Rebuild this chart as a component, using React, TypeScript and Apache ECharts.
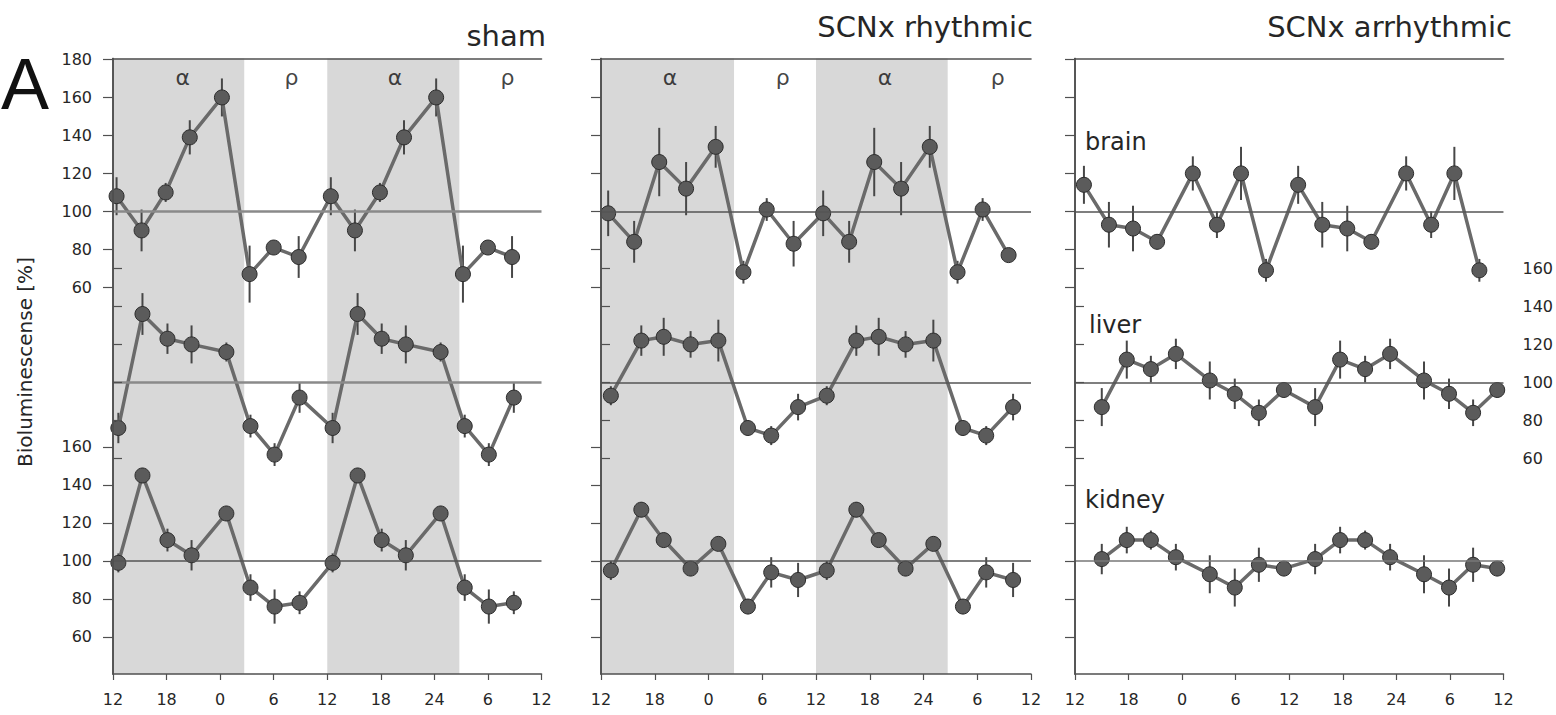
import React, { useEffect, useRef } from "react";
import * as echarts from "echarts";

// ---------- data ----------
const X_LABELS = ["12", "18", "0", "6", "12", "18", "24", "6", "12"];
const BRAIN_TICKS = [60, 80, 100, 120, 140, 160, 180];
const LIVER_TICKS = [60, 80, 100, 120, 140, 160];
const KIDNEY_TICKS = [60, 80, 100, 120, 140, 160];
const PANEL_TITLES = ["sham", "SCNx rhythmic", "SCNx arrhythmic"];
const TISSUES = ["brain", "liver", "kidney"];
const PHASE_NAMES = ["α", "ρ", "α", "ρ"];

// stacking offsets (in % units) for brain / liver / kidney
const OFFSETS = [184, 94, 0];
const Y_MIN = 40.5;
const Y_MAX = 364.5;
const PHASE_Y = 354.5;

// sampling times (hours after 12)
const shamBrainX = [0.4, 3.2, 5.9, 8.6, 12.2, 15.3, 18.0, 20.8, 24.4, 27.1, 29.9, 32.6, 36.2, 39.2, 42.0, 44.7];
const shamOtherX = [0.6, 3.3, 6.1, 8.8, 12.7, 15.4, 18.1, 20.9, 24.6, 27.4, 30.1, 32.8, 36.7, 39.4, 42.1, 44.9];
const rhythBrainX = [0.8, 3.7, 6.5, 9.5, 12.8, 15.9, 18.5, 21.5, 24.8, 27.7, 30.5, 33.5, 36.7, 39.8, 42.6, 45.5];
const rhythOtherX = [1.1, 4.5, 7.0, 10.0, 13.1, 16.4, 19.0, 22.0, 25.2, 28.5, 31.0, 34.0, 37.1, 40.4, 43.0, 46.0];
const arrhBrainX = [1.0, 3.8, 6.5, 9.2, 13.2, 15.9, 18.6, 21.4, 25.0, 27.7, 30.5, 33.2, 37.1, 39.9, 42.5, 45.3];
const arrhOtherX = [3.0, 5.8, 8.5, 11.3, 15.1, 17.9, 20.6, 23.4, 26.9, 29.7, 32.5, 35.3, 39.1, 41.9, 44.6, 47.3];

// sham
const shamBrain = [108, 90, 110, 139, 160, 67, 81, 76, 108, 90, 110, 139, 160, 67, 81, 76];
const shamBrainErr = [10, 11, 5, 9, 10, 15, 3, 11, 10, 11, 5, 9, 10, 15, 3, 11];
const shamLiver = [76, 136, 123, 120, 116, 77, 62, 92, 76, 136, 123, 120, 116, 77, 62, 92];
const shamLiverErr = [8, 11, 8, 10, 5, 6, 6, 8, 8, 11, 8, 10, 5, 6, 6, 8];
const shamKidney = [99, 145, 111, 103, 125, 86, 76, 78, 99, 145, 111, 103, 125, 86, 76, 78];
const shamKidneyErr = [5, 4, 6, 8, 4, 7, 9, 6, 5, 4, 6, 8, 4, 7, 9, 6];

// SCNx rhythmic
const rhythBrain = [99, 84, 126, 112, 134, 68, 101, 83, 99, 84, 126, 112, 134, 68, 101, 77];
const rhythBrainErr = [12, 11, 18, 14, 11, 6, 6, 12, 12, 11, 18, 14, 11, 6, 6, 3];
const rhythLiver = [93, 122, 124, 120, 122, 76, 72, 87, 93, 122, 124, 120, 122, 76, 72, 87];
const rhythLiverErr = [5, 8, 10, 7, 11, 4, 5, 7, 5, 8, 10, 7, 11, 4, 5, 7];
const rhythKidney = [95, 127, 111, 96, 109, 76, 94, 90, 95, 127, 111, 96, 109, 76, 94, 90];
const rhythKidneyErr = [5, 4, 3, 4, 3, 4, 8, 9, 5, 4, 3, 4, 3, 4, 8, 9];

// SCNx arrhythmic
const arrhBrain = [114, 93, 91, 84, 120, 93, 120, 69, 114, 93, 91, 84, 120, 93, 120, 69];
const arrhBrainErr = [10, 12, 12, 4, 9, 7, 14, 6, 10, 12, 12, 4, 9, 7, 14, 6];
const arrhLiver = [87, 112, 107, 115, 101, 94, 84, 96, 87, 112, 107, 115, 101, 94, 84, 96];
const arrhLiverErr = [10, 10, 7, 8, 10, 8, 7, 4, 10, 10, 7, 8, 10, 8, 7, 4];
const arrhKidney = [101, 111, 111, 102, 93, 86, 98, 96, 101, 111, 111, 102, 93, 86, 98, 96];
const arrhKidneyErr = [8, 7, 5, 7, 10, 10, 9, 4, 8, 7, 5, 7, 10, 10, 9, 4];

// shaded (α) phases, hours
const shamShade = [[0, 14.7], [24, 38.8]];
const rhythShade = [[0, 14.85], [24, 38.7]];
const shamPhaseX = [7.8, 20.0, 31.6, 44.2];
const rhythPhaseX = [7.7, 20.3, 31.7, 44.3];

const PANELS = [
  {
    xs: [shamBrainX, shamOtherX, shamOtherX],
    vals: [shamBrain, shamLiver, shamKidney],
    errs: [shamBrainErr, shamLiverErr, shamKidneyErr],
    shade: shamShade,
    phaseX: shamPhaseX,
  },
  {
    xs: [rhythBrainX, rhythOtherX, rhythOtherX],
    vals: [rhythBrain, rhythLiver, rhythKidney],
    errs: [rhythBrainErr, rhythLiverErr, rhythKidneyErr],
    shade: rhythShade,
    phaseX: rhythPhaseX,
  },
  {
    xs: [arrhBrainX, arrhOtherX, arrhOtherX],
    vals: [arrhBrain, arrhLiver, arrhKidney],
    errs: [arrhBrainErr, arrhLiverErr, arrhKidneyErr],
    shade: [] as number[][],
    phaseX: [] as number[],
  },
];

// ---------- styling / layout ----------
const FONT = "DejaVu Sans";
const AXIS_COLOR = "#505050";
const TEXT_COLOR = "#262626";
const GRID_LEFTS = [113, 601, 1075];
const GRID_WIDTHS = [428.5, 430, 431];
const GRID_TOP = 58.5;
const GRID_HEIGHT = 615.5;
const REF_STYLES = [
  [{ color: "#8a8a8a", width: 2.5 }, { color: "#8a8a8a", width: 2.5 }, { color: "#555", width: 1.5 }],
  [{ color: "#555", width: 1.5 }, { color: "#555", width: 1.5 }, { color: "#555", width: 1.5 }],
  [{ color: "#555", width: 1.5 }, { color: "#555", width: 1.5 }, { color: "#777", width: 1.5 }],
];

function buildOption() {
  const leftTicks = [...KIDNEY_TICKS.map((v) => v + OFFSETS[2]), ...BRAIN_TICKS.map((v) => v + OFFSETS[0])];
  const rightTicks = LIVER_TICKS.map((v) => v + OFFSETS[1]);

  const grid: any[] = [];
  const xAxis: any[] = [];
  const yAxis: any[] = [];
  const series: any[] = [];

  PANELS.forEach((panel, p) => {
    grid.push({ left: GRID_LEFTS[p], width: GRID_WIDTHS[p], top: GRID_TOP, height: GRID_HEIGHT });
    const axisLine = { show: true, lineStyle: { color: AXIS_COLOR, width: 1.6 } };
    xAxis.push({
      gridIndex: p,
      type: "value",
      min: 0,
      max: 48,
      interval: 6,
      z: 6,
      axisLine,
      axisTick: { show: true, length: 6, lineStyle: { color: AXIS_COLOR, width: 1.2 } },
      axisLabel: {
        formatter: (v: number) => X_LABELS[Math.round(v / 6)],
        margin: 17,
        fontSize: 16,
        fontFamily: FONT,
        color: TEXT_COLOR,
      },
      splitLine: { show: false },
    });
    xAxis.push({
      gridIndex: p,
      type: "value",
      position: "top",
      min: 0,
      max: 48,
      z: 6,
      axisLine,
      axisTick: { show: false },
      axisLabel: { show: false },
      splitLine: { show: false },
    });
    yAxis.push({
      gridIndex: p,
      type: "value",
      min: Y_MIN,
      max: Y_MAX,
      z: 6,
      axisLine,
      axisTick: { show: true, length: 10, customValues: leftTicks, lineStyle: { color: AXIS_COLOR, width: 1.2 } },
      axisLabel: {
        show: p === 0,
        customValues: leftTicks,
        formatter: (v: number) => String(Math.round(v > 200 ? v - OFFSETS[0] : v - OFFSETS[2])),
        margin: 21,
        fontSize: 16,
        fontFamily: FONT,
        color: TEXT_COLOR,
      },
      splitLine: { show: false },
    });
    yAxis.push({
      gridIndex: p,
      type: "value",
      position: "right",
      min: Y_MIN,
      max: Y_MAX,
      z: 6,
      axisLine,
      axisTick: { show: true, length: 9, customValues: rightTicks, lineStyle: { color: AXIS_COLOR, width: 1.2 } },
      axisLabel: {
        show: p === 2,
        customValues: rightTicks,
        formatter: (v: number) => String(Math.round(v - OFFSETS[1])),
        margin: 19,
        fontSize: 16,
        fontFamily: FONT,
        color: TEXT_COLOR,
      },
      splitLine: { show: false },
    });

    const xi = p * 2;
    const yi = p * 2;

    // background: shading + reference lines
    series.push({
      type: "scatter",
      xAxisIndex: xi,
      yAxisIndex: yi,
      data: [],
      z: 0,
      silent: true,
      markArea: {
        silent: true,
        itemStyle: { color: "#d8d8d8" },
        label: { show: false },
        data: panel.shade.map((s) => [{ xAxis: s[0] }, { xAxis: s[1] }]),
      },
      markLine: {
        silent: true,
        symbol: "none",
        label: { show: false },
        data: OFFSETS.map((off, t) => ({ yAxis: 100 + off, lineStyle: { ...REF_STYLES[p][t], type: "solid" } })),
      },
    });

    TISSUES.forEach((_, t) => {
      const xs = panel.xs[t];
      const vals = panel.vals[t];
      const errs = panel.errs[t];
      const off = OFFSETS[t];
      series.push({
        type: "custom",
        xAxisIndex: xi,
        yAxisIndex: yi,
        z: 2,
        silent: true,
        data: xs.map((x, i) => [x, vals[i] + off - errs[i], vals[i] + off + errs[i]]),
        encode: { x: 0, y: [1, 2] },
        renderItem: (params: any, api: any) => {
          const a = api.coord([api.value(0), api.value(1)]);
          const b = api.coord([api.value(0), api.value(2)]);
          return {
            type: "line",
            shape: { x1: a[0], y1: a[1], x2: b[0], y2: b[1] },
            style: { stroke: "#474747", lineWidth: 2 },
          };
        },
      });
      series.push({
        type: "line",
        xAxisIndex: xi,
        yAxisIndex: yi,
        z: 3,
        silent: true,
        data: xs.map((x, i) => [x, vals[i] + off]),
        symbol: "circle",
        symbolSize: 15,
        itemStyle: { color: "#5b5b5b", borderColor: "#2c2c2c", borderWidth: 1 },
        lineStyle: { color: "#6a6a6a", width: 3.5 },
      });
    });

    if (panel.phaseX.length) {
      series.push({
        type: "scatter",
        xAxisIndex: xi,
        yAxisIndex: yi,
        z: 4,
        silent: true,
        symbolSize: 1,
        itemStyle: { color: "rgba(0,0,0,0)" },
        data: panel.phaseX.map((x, i) => ({ value: [x, PHASE_Y], name: PHASE_NAMES[i] })),
        label: {
          show: true,
          position: "inside",
          formatter: (d: any) => d.name,
          fontSize: 22,
          fontFamily: FONT,
          color: "#111",
        },
      });
    }
  });

  const graphic: any[] = [
    {
      type: "text",
      x: 1,
      y: 84,
      style: { text: "A", font: "72px 'Liberation Sans'", fill: "#111", align: "left", verticalAlign: "middle" },
    },
    {
      type: "text",
      x: 25,
      y: 362,
      rotation: Math.PI / 2,
      style: {
        text: "Bioluminescense [%]",
        font: `20px '${FONT}'`,
        fill: TEXT_COLOR,
        align: "center",
        verticalAlign: "middle",
      },
    },
    {
      type: "text",
      x: 546,
      y: 36,
      style: { text: PANEL_TITLES[0], font: `29px '${FONT}'`, fill: TEXT_COLOR, align: "right", verticalAlign: "middle" },
    },
    {
      type: "text",
      x: 1033,
      y: 27,
      style: { text: PANEL_TITLES[1], font: `29px '${FONT}'`, fill: TEXT_COLOR, align: "right", verticalAlign: "middle" },
    },
    {
      type: "text",
      x: 1512,
      y: 27,
      style: { text: PANEL_TITLES[2], font: `29px '${FONT}'`, fill: TEXT_COLOR, align: "right", verticalAlign: "middle" },
    },
    {
      type: "text",
      x: 1085,
      y: 142,
      style: { text: TISSUES[0], font: `24px '${FONT}'`, fill: TEXT_COLOR, align: "left", verticalAlign: "middle" },
    },
    {
      type: "text",
      x: 1089,
      y: 325,
      style: { text: TISSUES[1], font: `24px '${FONT}'`, fill: TEXT_COLOR, align: "left", verticalAlign: "middle" },
    },
    {
      type: "text",
      x: 1085,
      y: 500,
      style: { text: TISSUES[2], font: `24px '${FONT}'`, fill: TEXT_COLOR, align: "left", verticalAlign: "middle" },
    },
  ];

  return {
    animation: false,
    backgroundColor: "#ffffff",
    grid,
    xAxis,
    yAxis,
    series,
    graphic,
  };
}

export default function App() {
  const ref = useRef<HTMLDivElement>(null);
  useEffect(() => {
    if (!ref.current) return;
    const chart = echarts.init(ref.current, null, { renderer: "svg" });
    chart.setOption(buildOption() as any);
    return () => chart.dispose();
  }, []);
  return (
    <div
      ref={ref}
      style={{ position: "absolute", left: 0, top: 0, width: 1556, height: 715, background: "#fff" }}
    />
  );
}
